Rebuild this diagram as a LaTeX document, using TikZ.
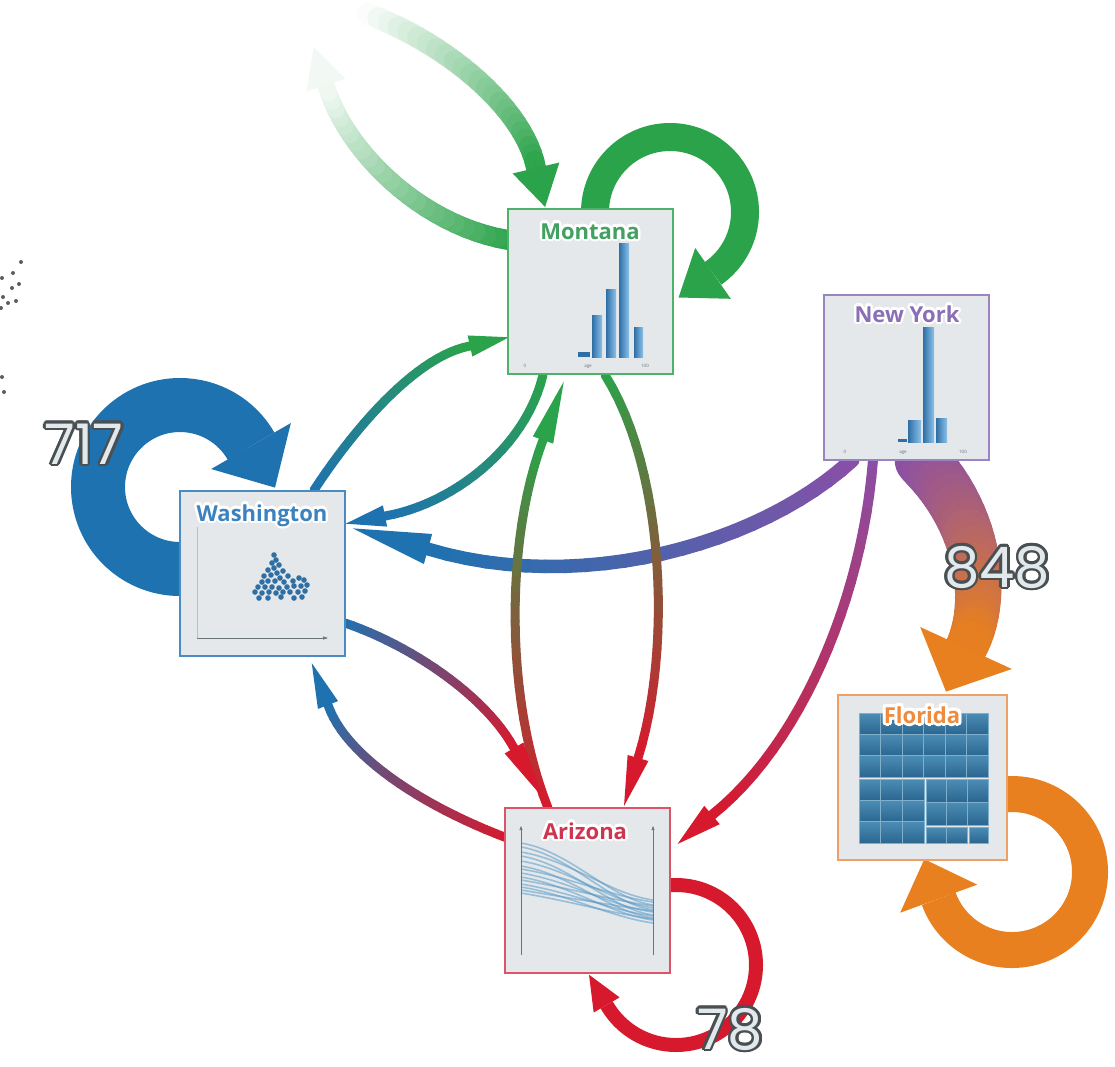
\documentclass[tikz,border=0pt]{standalone}
\usepackage{fontspec}
\setmainfont{Open Sans}
\newfontfamily\titlefont{Open Sans}
\newfontfamily\numfont{Poppins}
\usetikzlibrary{arrows.meta,calc}
\pgfdeclarelayer{edges}
\pgfsetlayers{edges,main}

\definecolor{mgreen}{HTML}{2BA34A}
\definecolor{mblue}{HTML}{1F72B0}
\definecolor{mred}{HTML}{D7192D}
\definecolor{morange}{HTML}{E8801F}
\definecolor{mpurple}{HTML}{8A4FA6}
\colorlet{mgreenfade}{mgreen!6}
\definecolor{boxfill}{HTML}{E4E8EA}
\definecolor{mtline}{HTML}{4DB26A}
\definecolor{mttext}{HTML}{42A060}
\definecolor{nyline}{HTML}{9A84C2}
\definecolor{nytext}{HTML}{8A6EB6}
\definecolor{waline}{HTML}{4A8BC4}
\definecolor{watext}{HTML}{3C82BE}
\definecolor{azline}{HTML}{DB5468}
\definecolor{aztext}{HTML}{CE3550}
\definecolor{flline}{HTML}{EFA066}
\definecolor{fltext}{HTML}{EE8B3C}
\definecolor{barL}{HTML}{2F6FA6}
\definecolor{barR}{HTML}{8CC2EA}
\definecolor{tmtop}{HTML}{4C8DB5}
\definecolor{tmbot}{HTML}{2A6690}
\definecolor{tmgrid}{HTML}{7FAFCB}
\definecolor{numline}{HTML}{4A4F52}
\definecolor{numfill}{HTML}{E2E9EC}
\definecolor{dotgray}{HTML}{5A5E62}
\definecolor{axisgray}{HTML}{6B7478}
\definecolor{pcline}{HTML}{5A9AC8}
\definecolor{scat}{HTML}{2F6FA3}

% text with a halo: #1 halo colour, #2 radius (pt), #3 text colour, #4 text
\newcommand\halo[4]{%
  \begingroup
  \setbox0=\hbox{#4}%
  \foreach \hA in {0,22.5,...,337.5}{%
    \pgfmathsetmacro\hdx{#2*cos(\hA)}%
    \pgfmathsetmacro\hdy{#2*sin(\hA)}%
    \rlap{\kern\hdx pt\raisebox{\hdy pt}{\textcolor{#1}{\copy0}}}%
  }%
  \textcolor{#3}{\box0}%
  \endgroup}

% gradient connector: start, c1, c2, end, colour A, colour B, width A, width B, tip length
\newcommand\gedge[9]{%
  \path #1 .. controls #2 and #3 .. #4
    \foreach \k [evaluate=\k as \gt using \k/24] in {0,...,24}{coordinate[pos=\gt] (gp\k)};
  \foreach \k in {0,...,23}{%
    \pgfmathtruncatemacro\kn{\k+1}%
    \pgfmathtruncatemacro\pc{round(100*(\k+0.5)/24)}%
    \pgfmathsetmacro\lw{#7+(#8-#7)*(\k+0.5)/24}%
    \draw[line width=\lw pt, color=#6!\pc!#5, line cap=round] (gp\k) -- (gp\kn);
  }%
  \pgfmathsetmacro\tw{2.4*#8}%
  \draw[line width=0.5pt, color=#6, -{Triangle[length=#9pt 0, width=\tw pt 0, line width=0pt 0]}]
    (gp23) -- ($(gp24)!-#9pt!(gp23)$);
}

% treemap block: x0 y0 x1 y1 ncols nrows
\newcommand\tmblock[6]{%
  \pgfmathsetmacro\cw{(#3-#1)/#5}\pgfmathsetmacro\ch{(#4-#2)/#6}%
  \foreach \i in {1,...,#5}{\foreach \j in {1,...,#6}{%
    \shade[top color=tmtop, bottom color=tmbot, draw=tmgrid, line width=0.5pt]
      ({#1+(\i-1)*\cw},{#2+(\j-1)*\ch}) rectangle ++(\cw,\ch);}}%
}

\begin{document}
\begin{tikzpicture}[x=1pt,y=-1pt,
  box/.style={draw, line width=2pt, fill=boxfill, minimum width=165pt, minimum height=165pt, inner sep=0pt},
  ttl/.style={inner sep=0pt, anchor=base, font=\titlefont\bfseries\fontsize{22}{22}\selectfont},
  num/.style={inner sep=0pt, anchor=base, font=\numfont\fontsize{56}{56}\selectfont},
  tinytxt/.style={inner sep=0pt, font=\fontsize{4.5}{4.5}\selectfont, text=axisgray},
  loopedge/.style={line cap=butt, line join=round},
  axisline/.style={draw=axisgray, line width=0.6pt},
]
\useasboundingbox (0,0) rectangle (1115,1066);

% ---------- boxes ----------
\node[box, draw=mtline] (mt) at (590.5,291) {};
\node[box, draw=nyline] (ny) at (906.5,377) {};
\node[box, draw=waline] (wa) at (262.5,573) {};
\node[box, draw=azline] (az) at (587.5,890.5) {};
\node[box, draw=flline, minimum width=169pt] (fl) at (922.5,777.5) {};
\coordinate (offTop) at (368,14);

\begin{pgfonlayer}{edges}
\fill[white] (0,0) rectangle (1115,1066);
% dots of an off-picture view
\foreach \p in {(13,273),(12,288),(2,278),(3,297),(8,303),(16,301),(1,308),(2,377),(4,392),(21,262),(19,284)}
  \fill[dotgray] \p circle[radius=2pt];

% ---------- self loops ----------
\draw[loopedge, line width=54pt, mblue, -{Triangle[length=48pt 0, width=92pt 0, line width=0pt 0]}]
  ($(wa)+(-50,-4)$) -- (180,569) .. controls (134.7,569) and (98,532.3) .. (98,487)
  .. controls (98,441.7) and (134.7,405) .. (180,405)
  .. controls (209.3,405) and (236.35,420.6) .. (251,446) -- ($(wa)+(12.5,-85.4)$);
\draw[loopedge, line width=28pt, mgreen, -{Triangle[length=42pt 0, width=62pt 0, line width=0pt 0]}]
  ($(mt)+(4.5,-41)$) -- (595,212) .. controls (595,170.6) and (628.6,137) .. (670,137)
  .. controls (711.4,137) and (745,170.6) .. (745,212)
  .. controls (745,236.5) and (733.1,259.3) .. (713,273.4) -- ($(mt)+(88.1,6.5)$);
\draw[loopedge, line width=36pt, morange, -{Triangle[length=42pt 0, width=82pt 0, line width=0pt 0]}]
  ($(fl)+(62.5,16.5)$) -- (1012,794) .. controls (1055.1,794) and (1090,828.9) .. (1090,872)
  .. controls (1090,915.1) and (1055.1,950) .. (1012,950)
  .. controls (979.2,950) and (949.9,929.5) .. (938.7,898.7) -- ($(fl)+(1.8,81.7)$);
\draw[loopedge, line width=14pt, mred, -{Triangle[length=35pt 0, width=30pt 0, line width=0pt 0]}]
  ($(az)+(67.5,-5.5)$) -- (676,885) .. controls (720.2,885) and (756,920.8) .. (756,965)
  .. controls (756,1009.2) and (720.2,1045) .. (676,1045)
  .. controls (647.4,1045) and (621,1029.8) .. (606.7,1005) -- ($(az)+(1.5,84.2)$);

% ---------- connectors ----------
\gedge{(offTop)}{(450,45)}{(525,110)}{(536,168)}{white}{mgreen}{22}{20}{40}
\gedge{($(mt)+(-82.5,-51)$)}{(420,225)}{(345,150)}{(326,85)}{mgreen}{mgreenfade}{20}{17}{40}
\gedge{($(ny)+(-54.5,83)$)}{(760,545)}{(580,595)}{(428,549)}{mpurple}{mblue}{15}{13}{78}
\gedge{($(wa)+(51.5,-83)$)}{(360,420)}{(420,355)}{(470,346)}{mblue}{mgreen}{9}{9}{40}
\gedge{($(mt)+(-47.5,84)$)}{(525,450)}{(450,505)}{(385,516)}{mgreen}{mblue}{9}{9}{40}
\gedge{($(az)+(-39.5,-82.5)$)}{(505,700)}{(505,540)}{(543,440)}{mred}{mgreen}{9}{9}{62}
\gedge{($(mt)+(14.5,84)$)}{(665,470)}{(672,650)}{(638,758)}{mgreen}{mred}{9}{9}{50}
\gedge{($(ny)+(-33.5,83)$)}{(862,600)}{(800,745)}{(712,815)}{mpurple}{mred}{10}{10}{45}
\gedge{($(ny)+(15.5,83)$)}{(980,520)}{(990,600)}{(966,648)}{mpurple}{morange}{55}{42}{48}
\gedge{($(wa)+(82.5,50)$)}{(410,645)}{(485,695)}{(514,748)}{mblue}{mred}{9}{9}{58}
\gedge{($(az)+(-80.5,-52.5)$)}{(420,805)}{(345,755)}{(328,705)}{mred}{mblue}{9}{9}{45}
\end{pgfonlayer}

% ---------- charts ----------
% Montana histogram
\fill[barL] (578,352) rectangle (590,357);
\shade[left color=barL, right color=barR] (592,315) rectangle (602,357);
\shade[left color=barL, right color=barR] (606,289) rectangle (616,357);
\shade[left color=barL, right color=barR] (619,243) rectangle (629,357);
\shade[left color=barL, right color=barR] (634,327) rectangle (643,357);
\node[tinytxt] (mtA0) at (525,366) {0};
\node[tinytxt] (mtA1) at (588,367) {age};
\node[tinytxt] (mtA2) at (645,366) {100};
% New York histogram
\fill[barL] (898,439) rectangle (907,442);
\shade[left color=barL, right color=barR] (908,420) rectangle (921,442);
\shade[left color=barL, right color=barR] (923,327) rectangle (934,442);
\shade[left color=barL, right color=barR] (936,418) rectangle (947,442);
\node[tinytxt] (nyA0) at (845,452) {0};
\node[tinytxt] (nyA1) at (903,453) {age};
\node[tinytxt] (nyA2) at (963,452) {100};
% Washington scatter
\draw[axisline, opacity=0.35] (197,638) -- (197,527);
\draw[axisline, -{Triangle[length=5pt, width=3pt]}] (197,638) -- (328,638);
\foreach \p in {(274,555),(276,560),(272,563),(279,565),(274,568),(268,570),(283,571),(277,573),(264,576),(271,575),
  (288,576),(280,578),(262,582),(268,581),(275,581),(284,582),(293,581),(299,578),(304,580),(258,587),(265,587),
  (272,587),(279,588),(287,587),(294,586),(301,586),(307,585),(255,592),(262,593),(269,592),(276,593),(283,592),
  (290,592),(298,592),(305,591),(259,598),(268,598),(281,597),(294,598),(302,597)}
  \fill[scat] \p circle[radius=2.8pt];
% Arizona parallel coordinates
\foreach \a/\b in {843/905,847/910,852/900,856/915,861/908,866/918,869/902,873/912,877/920,880/906,884/916,887/923,890/911,893/919}
  \draw[pcline, line width=1.6pt, opacity=0.55] (521,\a) .. controls (570,{\a+8}) and (610,{\b-6}) .. (653,\b);
\draw[axisline, -{Triangle[length=4pt, width=3pt]}] (521,955) -- (521,826);
\draw[axisline, -{Triangle[length=4pt, width=3pt]}] (653,955) -- (653,826);
% Florida treemap
\tmblock{859}{713}{988}{777}{6}{3}
\tmblock{859}{779}{924}{843}{3}{3}
\tmblock{926}{779}{988}{825}{3}{2}
\tmblock{926}{827}{967}{843}{2}{1}
\tmblock{969}{827}{988}{843}{1}{1}

% ---------- titles ----------
\node[ttl] (mtT) at (590,239) {\halo{white}{2.4}{mttext}{Montana}};
\node[ttl] (nyT) at (907,322) {\halo{white}{2.4}{nytext}{New York}};
\node[ttl] (waT) at (262,521) {\halo{white}{2.4}{watext}{Washington}};
\node[ttl] (azT) at (585,839) {\halo{white}{2.4}{aztext}{Arizona}};
\node[ttl] (flT) at (922,723) {\halo{white}{3}{fltext}{Florida}};

% ---------- counts ----------
\node[num] (n717) at (84,464) {\halo{numline}{2.6}{numfill}{717}};
\node[num] (n848) at (997,587) {\halo{numline}{2.6}{numfill}{848}};
\node[num] (n78) at (730,1049) {\halo{numline}{2.6}{numfill}{78}};
\end{tikzpicture}
\end{document}
